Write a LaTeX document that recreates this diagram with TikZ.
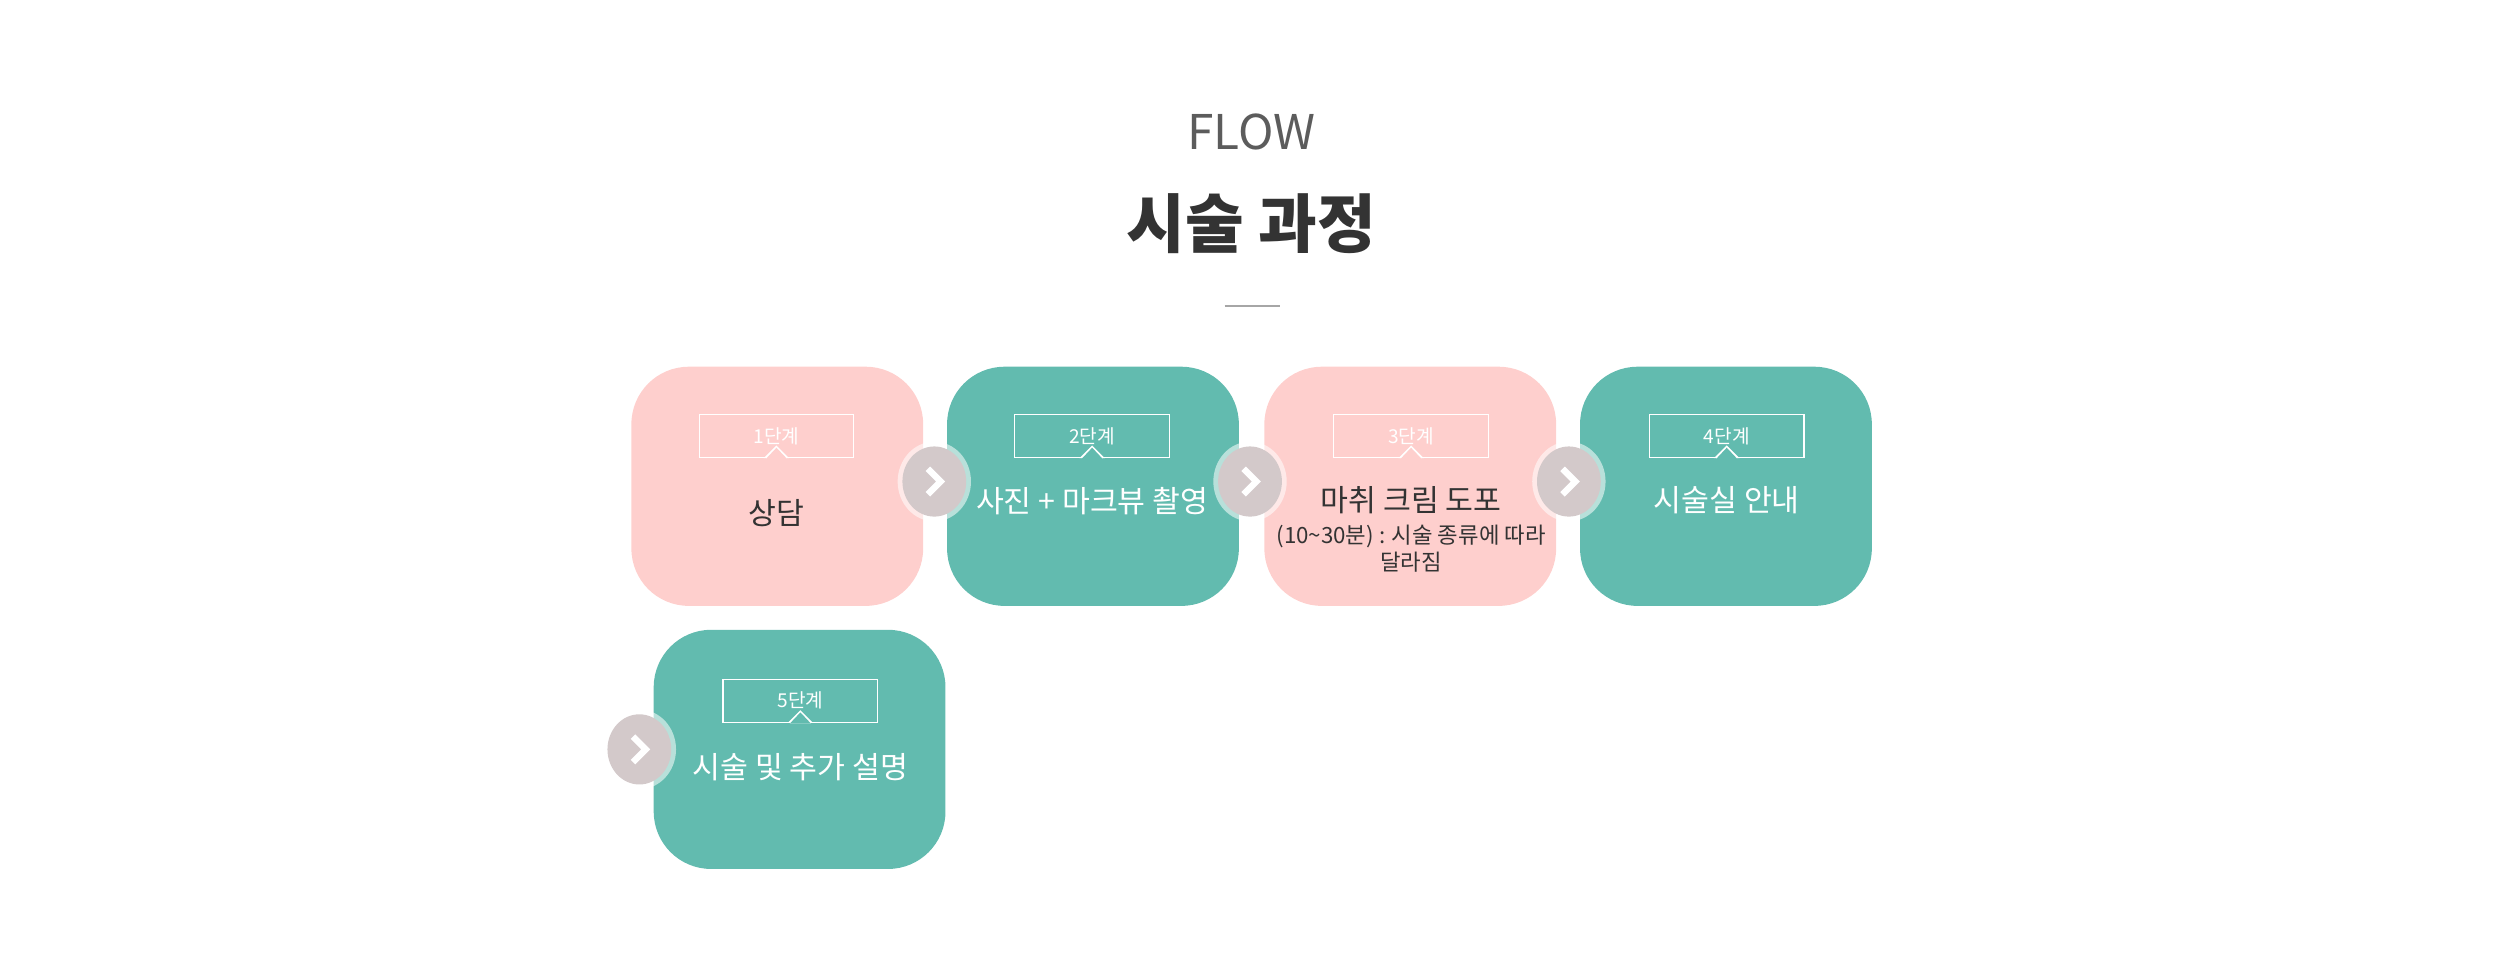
\documentclass[tikz,border=0pt]{standalone}
\usepackage{fontspec}
\setmainfont{Noto Sans CJK KR}
\begin{document}
\begin{tikzpicture}[x=1pt,y=-1pt,
  card/.style={rounded corners=36pt},
  pinkc/.style={card,fill=pinkbg},
  tealc/.style={card,fill=tealbg},
  tag/.style={draw=white,line width=0.8pt,minimum width=97pt,minimum height=27pt,inner sep=0pt,text=white,font=\fontsize{12}{14}\selectfont},
  mtext/.style={font=\fontsize{19}{22}\selectfont,align=center},
  halo/.style={fill=white,fill opacity=0.55,draw=none},
  disc/.style={fill=discgray},
  chev/.style={draw=white,line width=4pt}]
\definecolor{pinkbg}{HTML}{FECFCD}
\definecolor{tealbg}{HTML}{62BBAF}
\definecolor{discgray}{HTML}{D3C9CA}
\definecolor{dark}{HTML}{333333}
\useasboundingbox (0,0) rectangle (1568,611.5);
\node[text=dark!80,font=\fontsize{30}{32}\selectfont] (flow) at (785,83) {FLOW};
\node[text=dark,font=\fontsize{40}{44}\bfseries\selectfont] (title) at (785,140) {시술 과정};
\coordinate (l1) at (768,192); \coordinate (l2) at (803,192);
\draw[gray!70,line width=0.8pt] (l1) -- (l2);
% cards
\fill[pinkc] (396,230) rectangle (579,380);
\fill[tealc] (594,230) rectangle (777,380);
\fill[pinkc] (793,230) rectangle (976,380);
\fill[tealc] (991,230) rectangle (1174,380);
\fill[tealc] (410,395) rectangle (593,545);
% tags
\foreach \n/\x/\y/\t in {a/487/273.5/1단계,b/685/273.5/2단계,c/885/273.5/3단계,d/1083/273.5/4단계,e/502/439.5/5단계}{
  \node[tag] (tag\n) at (\x,\y) {\t};
  \fill[white] ([xshift=-8pt]tag\n.south) -- ++(16pt,0) -- ([yshift=8pt]tag\n.south) -- cycle;
  \fill[draw=none,fill=white] ([xshift=-6.6pt,yshift=-0.4pt]tag\n.south) -- ++(13.2pt,0) -- ([yshift=6.6pt]tag\n.south) -- cycle;
}
\fill[pinkbg] ([xshift=-6.6pt,yshift=-0.4pt]taga.south) -- ++(13.2pt,0) -- ([yshift=6.6pt]taga.south) -- cycle;
\fill[tealbg] ([xshift=-6.6pt,yshift=-0.4pt]tagb.south) -- ++(13.2pt,0) -- ([yshift=6.6pt]tagb.south) -- cycle;
\fill[pinkbg] ([xshift=-6.6pt,yshift=-0.4pt]tagc.south) -- ++(13.2pt,0) -- ([yshift=6.6pt]tagc.south) -- cycle;
\fill[tealbg] ([xshift=-6.6pt,yshift=-0.4pt]tagd.south) -- ++(13.2pt,0) -- ([yshift=6.6pt]tagd.south) -- cycle;
\fill[tealbg] ([xshift=-6.6pt,yshift=-0.4pt]tage.south) -- ++(13.2pt,0) -- ([yshift=6.6pt]tage.south) -- cycle;
% texts
\node[mtext,text=dark] (t1) at (487,322) {상담};
\node[mtext,text=white] (t2) at (685,314) {사진 + 마크뷰 촬영};
\node[mtext,text=dark] (t3) at (885,314) {마취 크림 도포};
\node[text=dark,font=\fontsize{14}{17}\selectfont,align=center] (t3b) at (885,344) {(10\textasciitilde30분) : 시술 종류에 따라\\달라짐};
\node[mtext,text=white] (t4) at (1083,314) {시술실 안내};
\node[mtext,text=white] (t5) at (502,481) {시술 및 추가 설명};
% arrows
\foreach \n/\x/\y in {1/586/302,2/784/302,3/984/302,4/401/470}{
  \fill[halo] (\x,\y) ellipse (23pt and 25pt);
  \fill[disc] (\x,\y) ellipse (20pt and 22pt);
  \coordinate (c\n) at (\x,\y);
  \draw[chev] ([xshift=-4pt,yshift=-8pt]c\n) -- ([xshift=4pt]c\n) -- ([xshift=-4pt,yshift=8pt]c\n);
}
\end{tikzpicture}
\end{document}
